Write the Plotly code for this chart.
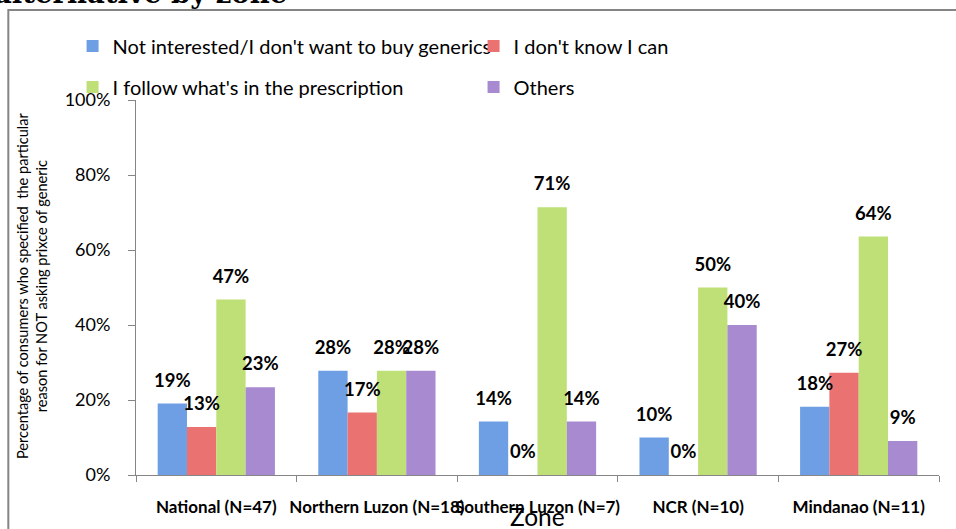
import plotly.graph_objects as go

zones = ["National (N=47)", "Northern Luzon (N=18)", "Southern Luzon (N=7)", "NCR (N=10)", "Mindanao (N=11)"]
series_names = ["Not interested/I don't want to buy generics", "I don't know I can",
                "I follow what's in the prescription", "Others"]
not_interested = [0.191, 0.278, 0.143, 0.10, 0.182]
dont_know = [0.128, 0.167, 0.0, 0.0, 0.273]
follow_rx = [0.468, 0.278, 0.714, 0.50, 0.636]
others = [0.234, 0.278, 0.143, 0.40, 0.091]
y_ticks = [0, 0.2, 0.4, 0.6, 0.8, 1.0]

values = [not_interested, dont_know, follow_rx, others]
colors = ["#6E9FE4", "#EA7270", "#BEE077", "#A78ACF"]
legends = ["legend", "legend", "legend2", "legend2"]

FONT = "Lato, Carlito, 'Liberation Sans', sans-serif"

fig = go.Figure()
for name, vals, col, lg in zip(series_names, values, colors, legends):
    fig.add_trace(go.Bar(x=zones, y=vals, name=name, marker=dict(color=col, line=dict(width=0)),
                         legend=lg, offsetgroup=name, alignmentgroup="a"))
for name, vals in zip(series_names, values):
    fig.add_trace(go.Scatter(x=zones, y=vals, mode="text+markers", showlegend=False,
                             orientation="v", offsetgroup=name, alignmentgroup="a",
                             marker=dict(size=18, opacity=0), text=[f"{v:.0%}" for v in vals],
                             textposition="top center", cliponaxis=False, hoverinfo="skip",
                             textfont=dict(family=FONT, size=18.5, color="black", weight="bold")))

fig.update_layout(
    width=956, height=529,
    margin=dict(l=136, r=17, t=100, b=54, autoexpand=False),
    paper_bgcolor="white", plot_bgcolor="white",
    barmode="group", bargap=0.27, bargroupgap=0,
    scattermode="group", scattergap=0.27,
    font=dict(family=FONT, size=16, color="black"),
    legend=dict(orientation="h", x=-0.079, xanchor="left", y=1.144, yanchor="middle",
                entrywidth=356, font=dict(size=20), bgcolor="rgba(0,0,0,0)"),
    legend2=dict(orientation="h", x=-0.079, xanchor="left", y=1.035, yanchor="middle",
                 entrywidth=356, font=dict(size=20), bgcolor="rgba(0,0,0,0)"),
    xaxis=dict(showline=True, linecolor="#868686", linewidth=1, ticks="outside", tickson="boundaries",
               ticklen=6, tickcolor="#868686", ticklabelstandoff=17, tickangle=0, automargin=False,
               tickfont=dict(family=FONT, size=17, weight="bold"), showgrid=False),
    yaxis=dict(range=[0, 1], tickvals=y_ticks, tickformat=".0%", showline=True, linecolor="#868686",
               ticks="outside", ticklen=7, tickcolor="#868686", ticklabelstandoff=14, automargin=False,
               tickfont=dict(family=FONT, size=18), showgrid=False, zeroline=False),
    shapes=[dict(type="rect", xref="paper", yref="paper", x0=-0.159, x1=1.1, y0=1.24, y1=-0.3,
                 line=dict(color="#858585", width=2))],
    annotations=[
        dict(text="alternative by zone", xref="paper", yref="paper", x=-0.179, y=1.238,
             xanchor="left", yanchor="bottom", showarrow=False,
             font=dict(family="DejaVu Serif", size=27.5, weight="bold", color="black")),
        dict(text="Percentage of consumers who specified  the particular<br>reason for NOT asking prixce of generic",
             xref="paper", yref="paper", x=-0.1295, y=0.504, xanchor="center", yanchor="middle",
             textangle=-90, showarrow=False, font=dict(family=FONT, size=14.6)),
        dict(text="Zone", xref="paper", yref="paper", x=0.5, y=-0.11, yanchor="middle",
             showarrow=False, font=dict(family=FONT, size=24.5)),
    ],
)

fig.write_html("out.html", config={"displayModeBar": False},
               post_script="document.body.style.margin='0';")
